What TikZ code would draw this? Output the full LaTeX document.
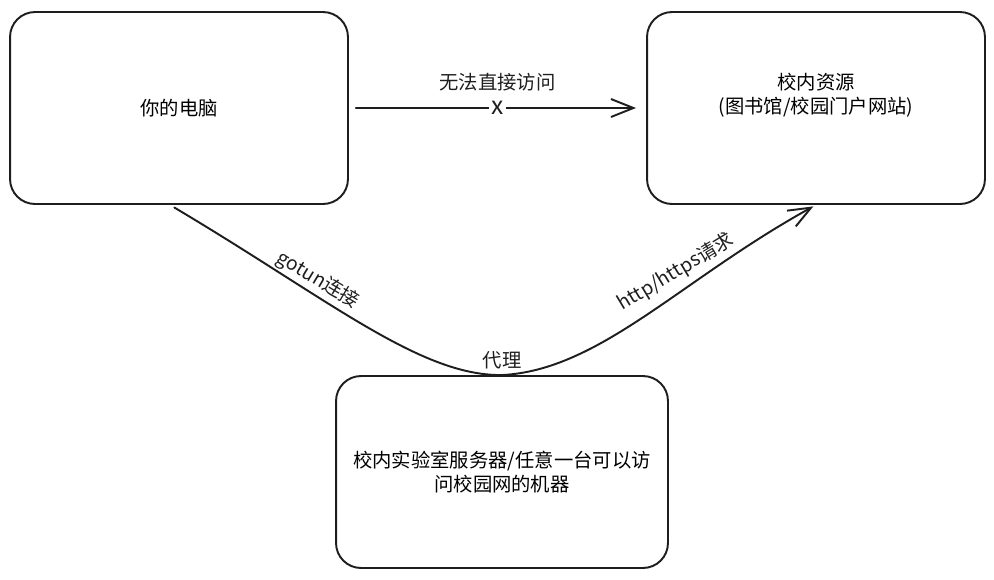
\documentclass[tikz,border=0pt]{standalone}
\usepackage{fontspec}
\setmainfont{Noto Sans CJK SC}
\usepackage{tikz}
\usetikzlibrary{arrows.meta}
\definecolor{ink}{HTML}{1E1E1E}
\tikzset{
  box/.style={draw=ink, line width=1.1pt, rounded corners=0.5cm, align=center,
    minimum width=6.76cm, minimum height=3.84cm, font=\fontsize{11}{14}\selectfont},
  conn/.style={draw=ink, line width=1.1pt, line cap=round,
    -{Straight Barb[length=0.45cm, width=0.36cm, line width=1.1pt]}},
  lab/.style={text=ink, font=\fontsize{11}{14}\selectfont, inner sep=1pt},
}
\begin{document}
\begin{tikzpicture}[x=0.02cm, y=-0.02cm]
  \useasboundingbox (0,0) rectangle (994,579);
  \node[box] (pc) at (179,108) {你的电脑};
  \node[box, text height=0.2cm, text depth=0.96cm] (res) at (816,108)
    {\begin{tabular}[t]{@{}c@{}}校内资源\\(图书馆/校园门户网站)\end{tabular}};
  \node[box, minimum width=6.64cm] (srv) at (502,472)
    {校内实验室服务器/任意一台可以访\\问校园网的机器};
  % direct access fails
  \draw[conn, shorten <=0.14cm, shorten >=0.2cm] (pc.east) -- (res.west)
    node[pos=0.5, fill=white, lab, inner ysep=0pt, inner xsep=1.5pt,
      font=\fontsize{14}{14}\selectfont] (cross) {x}
    node[pos=0.5, lab, above=0.28cm] (nolab) {无法直接访问};
  % tunnel through the proxy
  \draw[conn, shorten <=0.1cm, shorten >=0.06cm] ([xshift=-0.18cm]pc.south)
    .. controls (330,300) and (420,376) .. (srv.north)
    node[lab, above=2pt] (proxy) {代理}
    .. controls (600,370) and (680,280) .. (res.south);
  \node[lab, rotate=-31] (tun) at (318,280) {gotun连接};
  \node[lab, rotate=31] (req) at (676,272) {http/https请求};
\end{tikzpicture}
\end{document}
